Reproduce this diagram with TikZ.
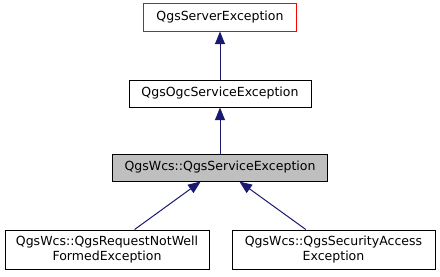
\documentclass[tikz,border=0pt]{standalone}
\usepackage{fontspec}
\setmainfont{DejaVu Sans}
\usetikzlibrary{arrows.meta}
\definecolor{edgec}{HTML}{191970}
\definecolor{rootc}{HTML}{FF0000}
\definecolor{focusc}{HTML}{BFBFBF}
\tikzset{
  klass/.style={draw=black, line width=0.75pt, inner sep=0pt, align=center,
    font=\fontsize{9.4}{11.3}\selectfont},
  rootklass/.style={klass, draw=rootc},
  focusklass/.style={klass, fill=focusc},
  inherit/.style={draw=edgec, line width=0.75pt, -{Triangle[length=9.5pt, width=7.5pt]}},
}

\begin{document}
\begin{tikzpicture}[x=0.75pt, y=-0.75pt, baseline=0pt]
\useasboundingbox (0,0) rectangle (440,276);
\node[rootklass, minimum width=153.000*0.75pt, minimum height=28.000*0.75pt] (serverexc) at (220.000,17.000) {QgsServerException};
\node[klass, minimum width=182.000*0.75pt, minimum height=27.000*0.75pt] (ogcexc) at (220.000,93.500) {QgsOgcServiceException};
\node[focusklass, minimum width=215.000*0.75pt, minimum height=27.000*0.75pt] (wcsexc) at (220.000,167.500) {QgsWcs::QgsServiceException};
\node[klass, minimum width=204.000*0.75pt, minimum height=39.000*0.75pt] (notwellexc) at (107.000,249.500) {QgsWcs::QgsRequestNotWell\\FormedException};
\node[klass, minimum width=203.000*0.75pt, minimum height=39.000*0.75pt] (securityexc) at (333.500,249.500) {QgsWcs::QgsSecurityAccess\\Exception};
\draw[inherit] (ogcexc) -- (serverexc);
\draw[inherit] (wcsexc) -- (ogcexc);
\draw[inherit] (notwellexc) -- (wcsexc);
\draw[inherit] (securityexc) -- (wcsexc);
\end{tikzpicture}
\end{document}
